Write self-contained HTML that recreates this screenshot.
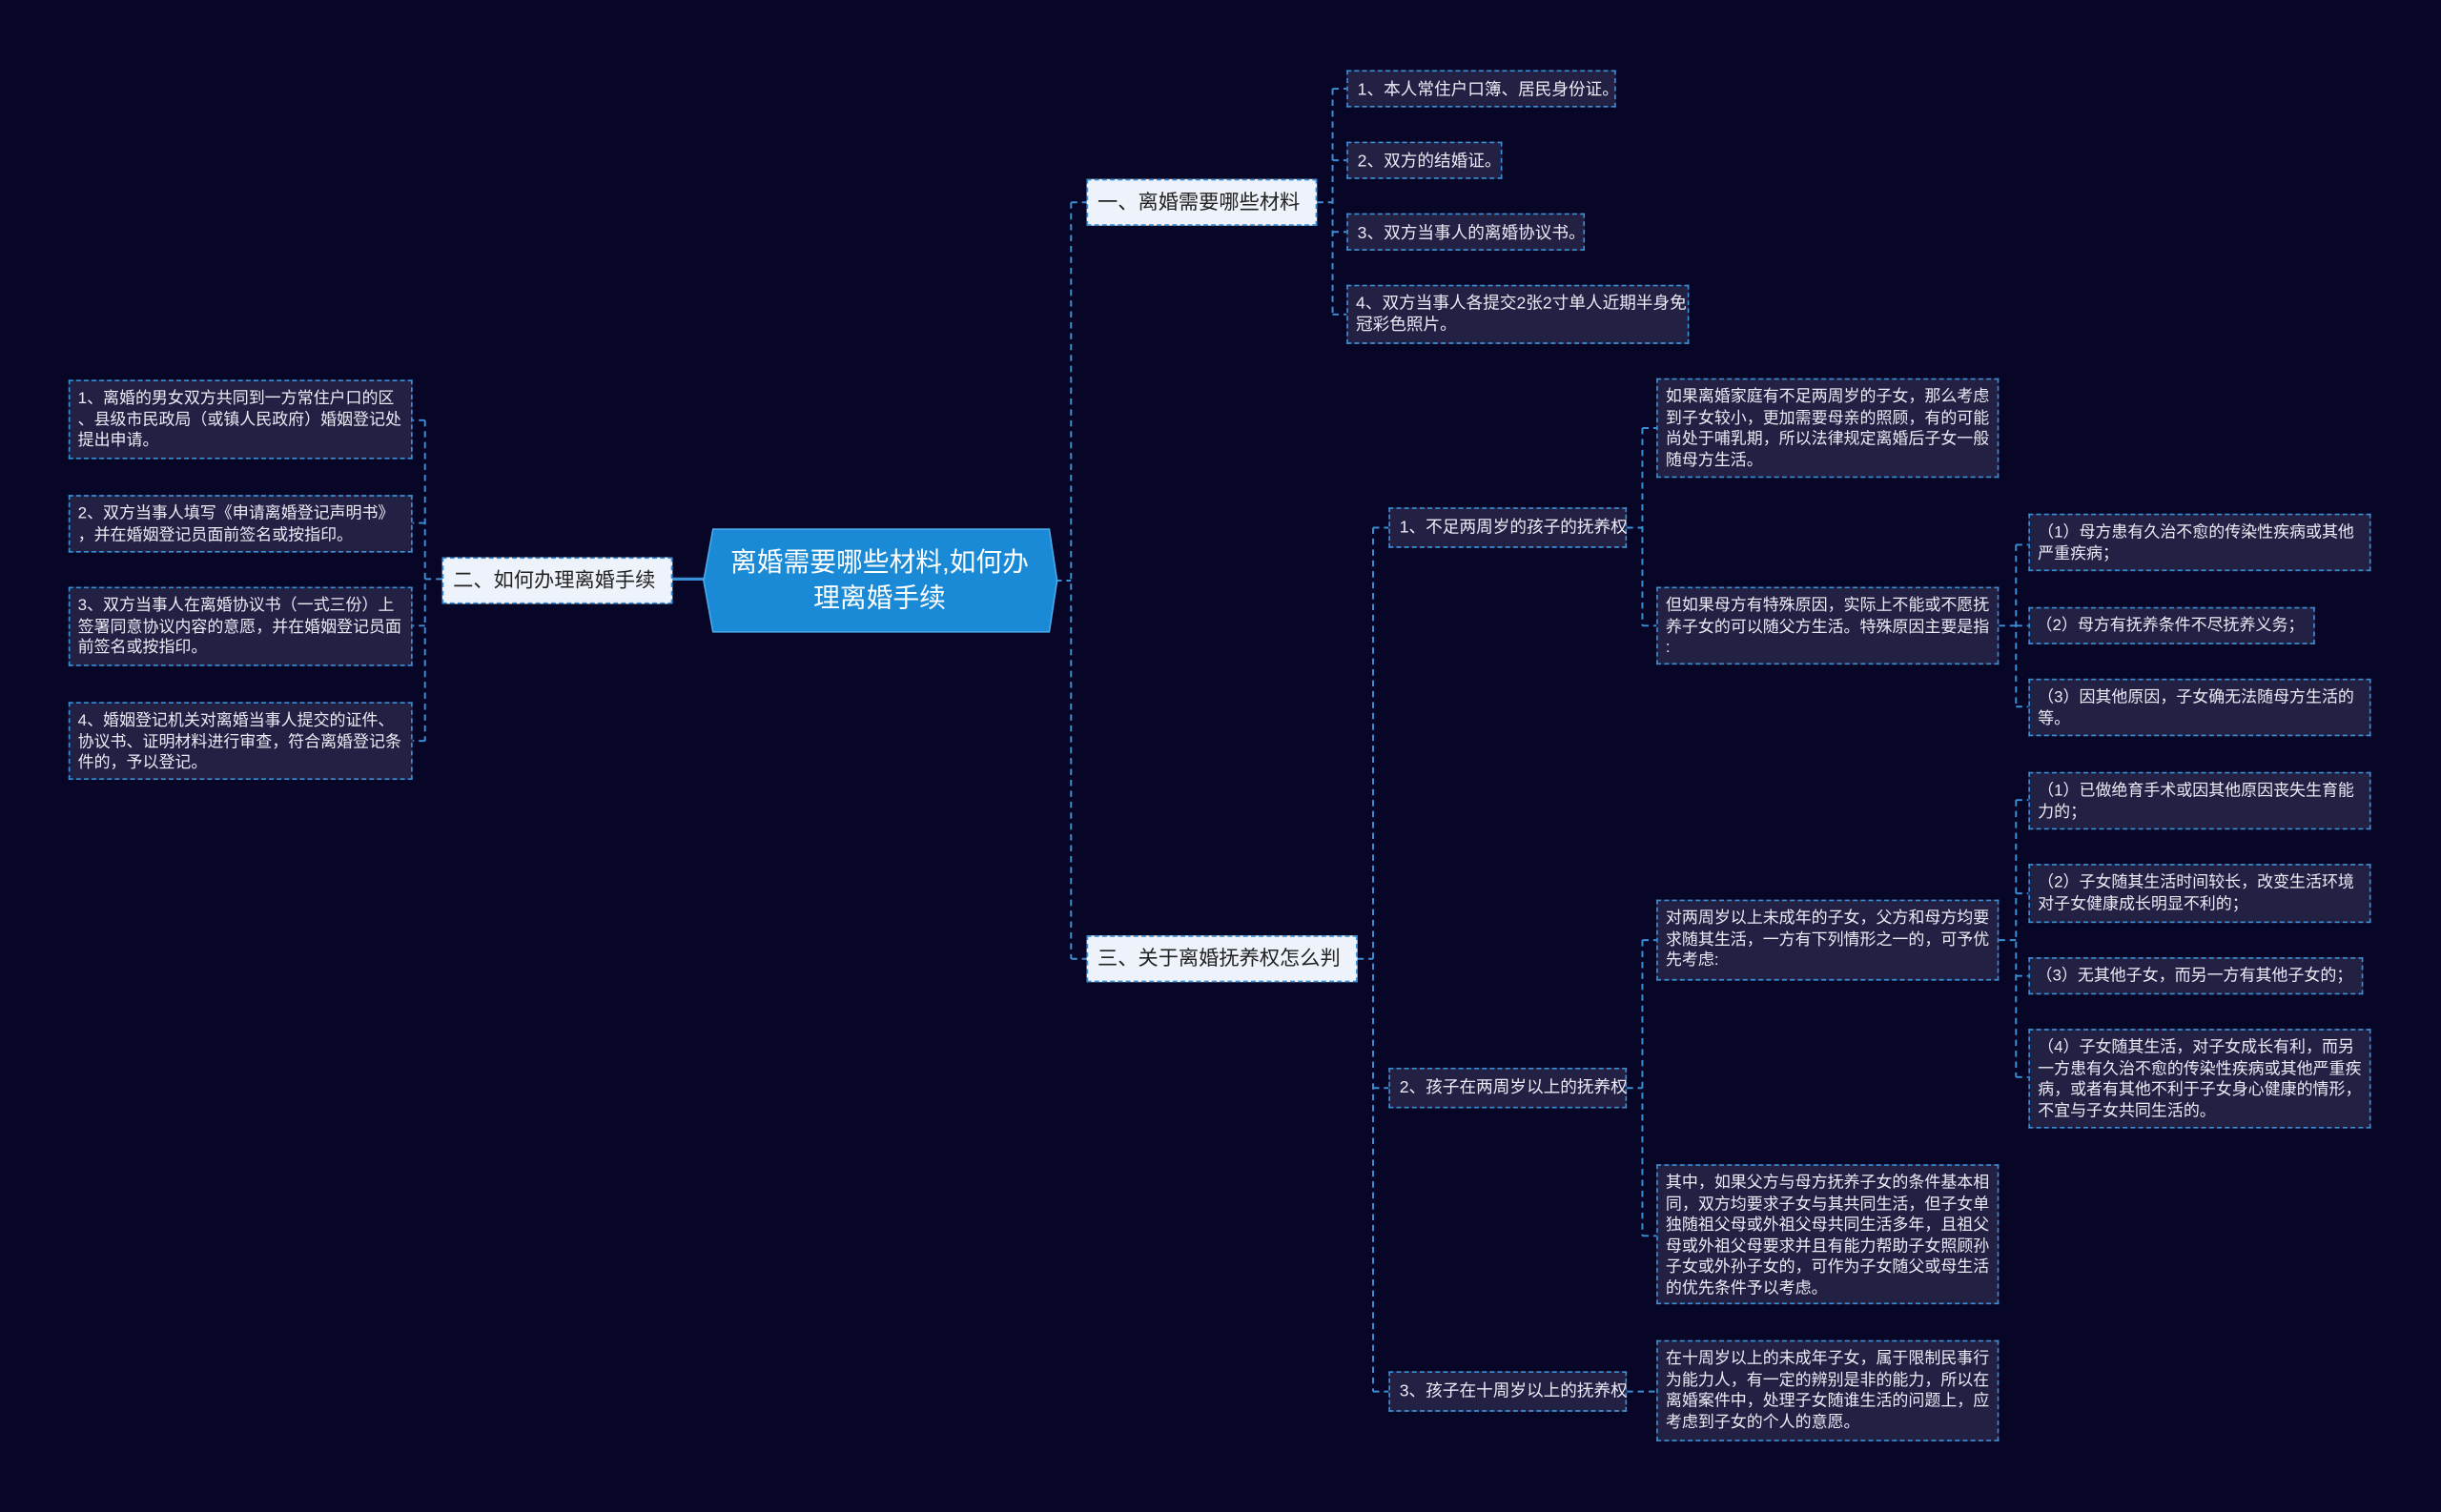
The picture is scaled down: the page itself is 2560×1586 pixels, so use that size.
<!DOCTYPE html>
<html><head><meta charset="utf-8"><style>
html,body{margin:0;padding:0;background:#070626;}
#w{position:absolute;left:0;top:0;width:1568px;height:971.5px;transform:scale(1.63265);transform-origin:0 0;overflow:hidden;background:#070626;font-family:"Liberation Sans","Noto Sans CJK SC",sans-serif;}
.n{position:absolute;box-sizing:border-box;background:#222043;border:1px dashed #3b8fd6;color:#eceaf5;font-size:10.4px;line-height:13.5px;padding:5px 5px;white-space:nowrap;}
.b{position:absolute;box-sizing:border-box;background:#eef3fb;border:1px dashed #3b8fd6;color:#222;font-size:13px;line-height:28px;padding:0 6px;white-space:nowrap;}
.s{position:absolute;box-sizing:border-box;background:#222043;border:1px dashed #3b8fd6;color:#eceaf5;font-size:10.8px;line-height:24px;padding:0 6px;white-space:nowrap;}
svg{position:absolute;left:0;top:0;}
</style></head><body><div id="w">
<svg width="1568" height="972">
<g stroke="#3b8fd6" stroke-width="1.2" fill="none" stroke-dasharray="4,3">
<path d="M273 270V476M273 270H265M273 336H265M273 402H265M273 476H265M284 372H273"/>
<path d="M688 130V616M678 373H688M688 130H698M688 616H698"/>
<path d="M846 130H856M856 57V202M856 57H865M856 103H865M856 149H865M856 202H865"/>
<path d="M872 616H882M882 339V894M882 339H892M882 699H892M882 894H892"/>
<path d="M1045 339H1055M1055 275V402M1055 275H1064M1055 402H1064"/>
<path d="M1284 402H1295M1295 350V454M1295 350H1303M1295 402H1303M1295 454H1303"/>
<path d="M1045 699H1055M1055 604V794M1055 604H1064M1055 794H1064"/>
<path d="M1284 604H1295M1295 514V692M1295 514H1303M1295 574H1303M1295 627H1303M1295 692H1303"/>
<path d="M1045 894H1064"/>
</g>
<path d="M432 372H452" stroke="#3b8fd6" stroke-width="2"/>
<polygon points="458,340 674,340 679,373 674,406 458,406 452,373" fill="#1a8ad6" stroke="#4aa8ea" stroke-width="1"/>
<text x="565" y="367" fill="#fff" font-size="17" text-anchor="middle" font-family="Liberation Sans,Noto Sans CJK SC,sans-serif">离婚需要哪些材料,如何办</text>
<text x="565" y="390" fill="#fff" font-size="17" text-anchor="middle" font-family="Liberation Sans,Noto Sans CJK SC,sans-serif">理离婚手续</text>
</svg>

<div class="b" style="left:284px;top:358px;width:148px;height:30px;">二、如何办理离婚手续</div>
<div class="n" style="left:44px;top:244px;width:221px;height:51px;">1、离婚的男女双方共同到一方常住户口的区<br>、县级市民政局（或镇人民政府）婚姻登记处<br>提出申请。</div>
<div class="n" style="left:44px;top:318px;width:221px;height:37px;">2、双方当事人填写《申请离婚登记声明书》<br>，并在婚姻登记员面前签名或按指印。</div>
<div class="n" style="left:44px;top:377px;width:221px;height:51px;">3、双方当事人在离婚协议书（一式三份）上<br>签署同意协议内容的意愿，并在婚姻登记员面<br>前签名或按指印。</div>
<div class="n" style="left:44px;top:451px;width:221px;height:50px;">4、婚姻登记机关对离婚当事人提交的证件、<br>协议书、证明材料进行审查，符合离婚登记条<br>件的，予以登记。</div>

<div class="b" style="left:698px;top:115px;width:148px;height:30px;">一、离婚需要哪些材料</div>
<div class="s" style="left:865px;top:45px;width:173px;height:24px;">1、本人常住户口簿、居民身份证。</div>
<div class="s" style="left:865px;top:91px;width:100px;height:24px;">2、双方的结婚证。</div>
<div class="s" style="left:865px;top:137px;width:153px;height:24px;">3、双方当事人的离婚协议书。</div>
<div class="n" style="left:865px;top:183px;width:220px;height:38px;font-size:10.8px;">4、双方当事人各提交2张2寸单人近期半身免<br>冠彩色照片。</div>

<div class="b" style="left:698px;top:601px;width:174px;height:30px;">三、关于离婚抚养权怎么判</div>
<div class="s" style="left:892px;top:326px;width:153px;height:26px;line-height:24px;">1、不足两周岁的孩子的抚养权</div>
<div class="s" style="left:892px;top:686px;width:153px;height:26px;line-height:24px;">2、孩子在两周岁以上的抚养权</div>
<div class="s" style="left:892px;top:881px;width:153px;height:26px;line-height:24px;">3、孩子在十周岁以上的抚养权</div>

<div class="n" style="left:1064px;top:243px;width:220px;height:64px;">如果离婚家庭有不足两周岁的子女，那么考虑<br>到子女较小，更加需要母亲的照顾，有的可能<br>尚处于哺乳期，所以法律规定离婚后子女一般<br>随母方生活。</div>
<div class="n" style="left:1064px;top:377px;width:220px;height:50px;">但如果母方有特殊原因，实际上不能或不愿抚<br>养子女的可以随父方生活。特殊原因主要是指<br>:</div>
<div class="n" style="left:1303px;top:330px;width:220px;height:37px;">（1）母方患有久治不愈的传染性疾病或其他<br>严重疾病；</div>
<div class="s" style="left:1303px;top:390px;width:184px;height:24px;font-size:10.4px;padding:0 4px;">（2）母方有抚养条件不尽抚养义务；</div>
<div class="n" style="left:1303px;top:436px;width:220px;height:37px;">（3）因其他原因，子女确无法随母方生活的<br>等。</div>

<div class="n" style="left:1064px;top:578px;width:220px;height:52px;">对两周岁以上未成年的子女，父方和母方均要<br>求随其生活，一方有下列情形之一的，可予优<br>先考虑:</div>
<div class="n" style="left:1303px;top:496px;width:220px;height:37px;">（1）已做绝育手术或因其他原因丧失生育能<br>力的；</div>
<div class="n" style="left:1303px;top:555px;width:220px;height:38px;">（2）子女随其生活时间较长，改变生活环境<br>对子女健康成长明显不利的；</div>
<div class="s" style="left:1303px;top:615px;width:215px;height:24px;font-size:10.4px;padding:0 4px;">（3）无其他子女，而另一方有其他子女的；</div>
<div class="n" style="left:1303px;top:661px;width:220px;height:64px;">（4）子女随其生活，对子女成长有利，而另<br>一方患有久治不愈的传染性疾病或其他严重疾<br>病，或者有其他不利于子女身心健康的情形，<br>不宜与子女共同生活的。</div>
<div class="n" style="left:1064px;top:748px;width:220px;height:90px;">其中，如果父方与母方抚养子女的条件基本相<br>同，双方均要求子女与其共同生活，但子女单<br>独随祖父母或外祖父母共同生活多年，且祖父<br>母或外祖父母要求并且有能力帮助子女照顾孙<br>子女或外孙子女的，可作为子女随父或母生活<br>的优先条件予以考虑。</div>
<div class="n" style="left:1064px;top:861px;width:220px;height:65px;">在十周岁以上的未成年子女，属于限制民事行<br>为能力人，有一定的辨别是非的能力，所以在<br>离婚案件中，处理子女随谁生活的问题上，应<br>考虑到子女的个人的意愿。</div>
</div></body></html>
